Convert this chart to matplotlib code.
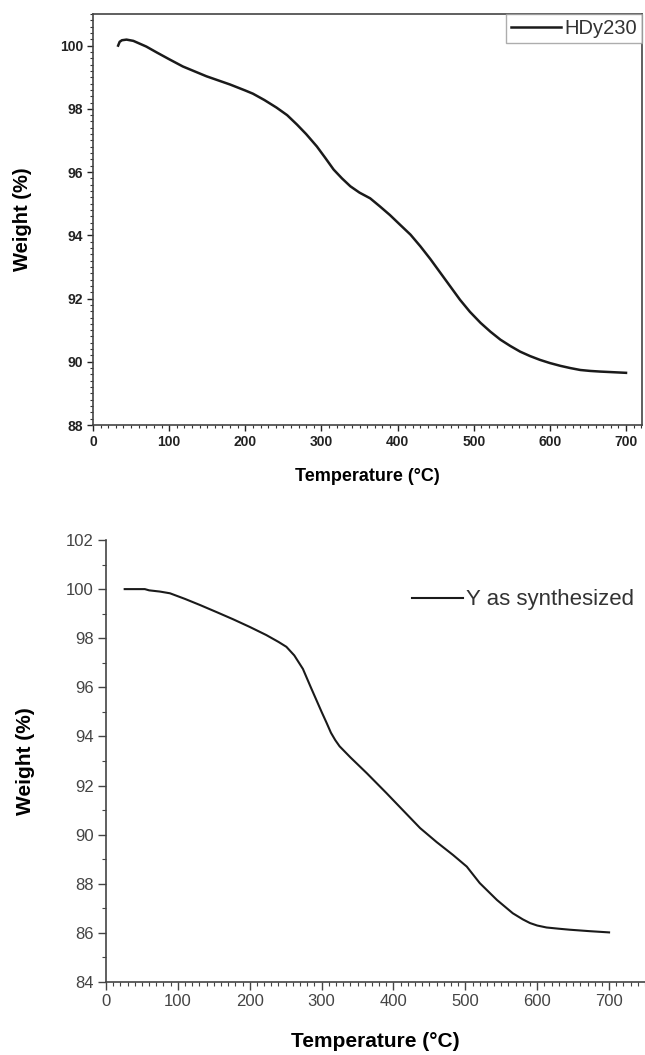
import matplotlib
matplotlib.use("Agg")
import matplotlib.pyplot as plt
from matplotlib.ticker import MultipleLocator

plt.rcParams['font.family'] = ['Liberation Sans', 'DejaVu Sans']

# ---- data: top panel (HDy230) ----
temp_hdy = [33, 35, 38, 44, 53, 70, 84, 100, 118, 149, 180, 200, 210, 225, 241,
            255, 268, 280, 294, 305, 316, 327, 338, 350, 364, 377, 390, 403, 417,
            430, 443, 456, 469, 482, 495, 509, 522, 535, 548, 561, 574, 587, 600,
            614, 627, 640, 653, 666, 683, 700]
weight_hdy = [100.0, 100.12, 100.17, 100.19, 100.15, 99.97, 99.78, 99.57, 99.34,
              99.03, 98.77, 98.58, 98.48, 98.28, 98.04, 97.8, 97.5, 97.2, 96.81,
              96.45, 96.08, 95.8, 95.55, 95.35, 95.17, 94.91, 94.64, 94.34, 94.02,
              93.65, 93.25, 92.82, 92.39, 91.96, 91.58, 91.23, 90.95, 90.7, 90.5,
              90.32, 90.18, 90.06, 89.96, 89.87, 89.8, 89.74, 89.71, 89.69, 89.67,
              89.65]
label_hdy = "HDy230"

# ---- data: bottom panel (Y as synthesized) ----
temp_y = [26, 54, 60, 75, 89, 110, 131, 155, 177, 200, 223, 240, 251, 262, 274,
          285, 300, 307, 313, 319, 325, 340, 363, 390, 413, 437, 460, 483, 502,
          520, 544, 566, 580, 590, 600, 613, 630, 645, 673, 700]
weight_y = [100.0, 100.0, 99.95, 99.9, 99.83, 99.6, 99.35, 99.05, 98.77, 98.46,
            98.13, 97.85, 97.65, 97.3, 96.75, 96.0, 95.0, 94.55, 94.15, 93.85,
            93.6, 93.15, 92.5, 91.7, 91.0, 90.27, 89.7, 89.17, 88.7, 88.03, 87.34,
            86.8, 86.55, 86.4, 86.3, 86.22, 86.17, 86.13, 86.07, 86.02]
label_y = "Y as synthesized"

xticks_top = [0, 100, 200, 300, 400, 500, 600, 700]
yticks_top = [88, 90, 92, 94, 96, 98, 100]
xticks_bot = [0, 100, 200, 300, 400, 500, 600, 700]
yticks_bot = [84, 86, 88, 90, 92, 94, 96, 98, 100, 102]

W, H = 645, 1055
fig = plt.figure(figsize=(W / 100, H / 100), dpi=100)

# ---------------- top panel ----------------
ax1 = fig.add_axes([93 / W, 1 - 425 / H, (642 - 93) / W, (425 - 14) / H])
ax1.plot(temp_hdy, weight_hdy, color='#1a1a1a', lw=1.8, label=label_hdy)
ax1.set_xlim(0, 721)
ax1.set_ylim(88, 101)
ax1.set_xticks(xticks_top)
ax1.set_yticks(yticks_top)
ax1.xaxis.set_minor_locator(MultipleLocator(10))
ax1.yaxis.set_minor_locator(MultipleLocator(0.2))
ax1.tick_params(which='major', direction='out', length=4, width=1.0,
                labelsize=10, colors='#222222', pad=3)
ax1.tick_params(which='minor', direction='out', length=2.5, width=0.8,
                colors='#333333')
for lab in ax1.get_xticklabels() + ax1.get_yticklabels():
    lab.set_fontweight('bold')
for s in ax1.spines.values():
    s.set_color('#444444')
    s.set_linewidth(1.2)
ax1.set_xlabel("Temperature (°C)", fontsize=13, fontweight='bold', labelpad=14)
ax1.set_ylabel("Weight (%)", fontsize=14.5, fontweight='bold', labelpad=20)
leg1 = ax1.legend(loc='upper right', bbox_to_anchor=(1.0, 1.0), borderaxespad=0,
                  fontsize=14.5, handlelength=2.5, handletextpad=0.15,
                  borderpad=0.25, frameon=True, fancybox=False)
leg1.get_frame().set_edgecolor('#999999')
leg1.get_frame().set_linewidth(1.0)
for t in leg1.get_texts():
    t.set_color('#333333')

# ---------------- bottom panel ----------------
ax2 = fig.add_axes([106 / W, 1 - 982 / H, (645 - 106) / W, (982 - 540) / H])
ax2.plot(temp_y, weight_y, color='#1a1a1a', lw=1.5, label=label_y)
ax2.set_xlim(0, 750)
ax2.set_ylim(84, 102)
ax2.set_xticks(xticks_bot)
ax2.set_yticks(yticks_bot)
ax2.xaxis.set_minor_locator(MultipleLocator(10))
ax2.yaxis.set_minor_locator(MultipleLocator(1))
ax2.spines['top'].set_visible(False)
ax2.spines['right'].set_visible(False)
for s in ('left', 'bottom'):
    ax2.spines[s].set_color('#444444')
    ax2.spines[s].set_linewidth(1.2)
ax2.tick_params(which='major', direction='out', length=6, width=1.0,
                labelsize=12, colors='#444444', pad=3)
ax2.tick_params(which='minor', direction='out', length=3, width=0.8,
                colors='#444444')
ax2.set_xlabel("Temperature (°C)", fontsize=15, fontweight='bold', labelpad=16)
ax2.set_ylabel("Weight (%)", fontsize=15, fontweight='bold', labelpad=22)
leg2 = ax2.legend(loc='center left', bbox_to_anchor=(412 / W, 1 - 600 / H),
                  bbox_transform=fig.transFigure, borderaxespad=0, borderpad=0,
                  fontsize=16, handlelength=2.3, handletextpad=0.15, frameon=False)
for t in leg2.get_texts():
    t.set_color('#333333')

fig.savefig("out.png", dpi=100)
